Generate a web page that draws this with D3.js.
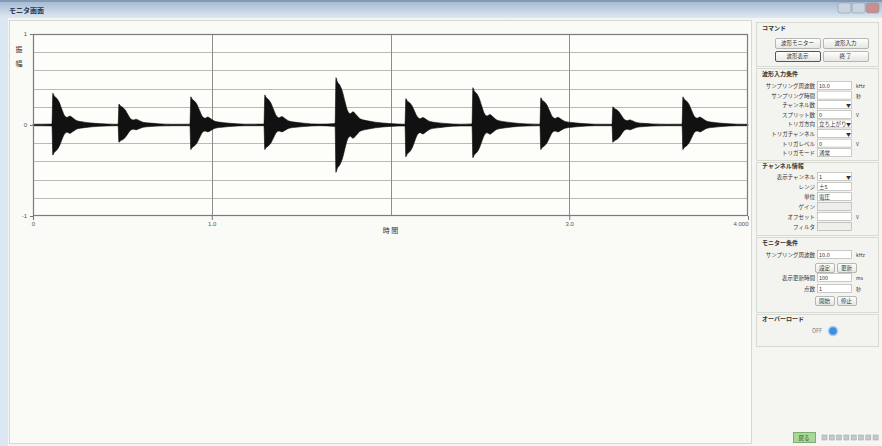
<!DOCTYPE html>
<html><head><meta charset="utf-8">
<script src="https://cdn.jsdelivr.net/npm/d3@7"></script>
<style>
html,body{margin:0;padding:0;background:#f5f6f1;overflow:hidden}
svg{display:block;font-family:"Noto Sans CJK JP","Noto Sans",sans-serif}
</style></head><body>
<svg id="c" width="882" height="446"></svg>
<script>
// ---- waveform data (time in s, amplitude normalised to ±1) ----
const burstStart = [0.106, 0.476, 0.878, 1.292, 1.690, 2.081, 2.456, 2.836, 3.239, 3.631];
const burstPos   = [0.35, 0.23, 0.31, 0.33, 0.52, 0.29, 0.41, 0.30, 0.20, 0.31];
const burstNeg   = [0.33, 0.19, 0.27, 0.27, 0.52, 0.35, 0.36, 0.27, 0.19, 0.27];
// decay envelope of one strike: offset from onset (s) and relative level
const envOffset  = [0, 0.005, 0.012, 0.025, 0.040, 0.055, 0.070, 0.085, 0.100, 0.117, 0.140, 0.180, 0.224, 0.310];
const envLevel   = [0.03, 1.00, 0.92, 0.85, 0.72, 0.50, 0.30, 0.24, 0.28, 0.22, 0.13, 0.09, 0.06, 0.03];
const baseLevel  = 0.008;

// ---- axes ----
const xDomain = [0, 4];
const xTickValues = [0, 1, 3, 4];
const xTickLabels = ["0", "1.0", "3.0", "4.000"];
const xGridValues = [1, 2, 3];
const yDomain = [-1, 1];
const yTickValues = [1, 0, -1];
const yTickLabels = ["1", "0", "-1"];
const yGridValues = [-0.8, -0.6, -0.4, -0.2, 0, 0.2, 0.4, 0.6, 0.8];
const xTitle = "時 間";
const yTitle = ["振", "幅"];

// ---- side panel text ----
const cmdButtons = ["波形モニター", "波形入力", "波形表示", "終 了"];
const inputRows = [
  ["サンプリング周波数", "10.0", "kHz"], ["サンプリング時間", "", "秒"],
  ["チャンネル数", "", "▼"], ["スプリット数", "0", "V"],
  ["トリガ方向", "立ち上がり", "▼"], ["トリガチャンネル", "", "▼"],
  ["トリガレベル", "0", "V"], ["トリガモード", "通常", ""]
];
const chanRows = [
  ["表示チャンネル", "1", "▼"], ["レンジ", "±5", ""], ["単位", "電圧", ""],
  ["ゲイン", null, ""], ["オフセット", "", "V"], ["フィルタ", null, ""]
];
const monRows = [["サンプリング周波数", "10.0", "kHz"], ["表示更新時間", "100", "ms"], ["点数", "1", "秒"]];

const svg = d3.select("#c");
const defs = svg.append("defs");
const tg = defs.append("linearGradient").attr("id", "tb").attr("x1", 0).attr("x2", 0).attr("y1", 0).attr("y2", 1);
tg.append("stop").attr("offset", 0).attr("stop-color", "#9fb6cf");
tg.append("stop").attr("offset", 1).attr("stop-color", "#dfe8f1");
const bg = defs.append("linearGradient").attr("id", "btn").attr("x1", 0).attr("x2", 0).attr("y1", 0).attr("y2", 1);
bg.append("stop").attr("offset", 0).attr("stop-color", "#ffffff");
bg.append("stop").attr("offset", 1).attr("stop-color", "#e4e6e2");

// window frame
svg.append("rect").attr("width", 882).attr("height", 446).attr("fill", "#f5f6f1");
svg.append("rect").attr("width", 882).attr("height", 18).attr("fill", "url(#tb)");
svg.append("rect").attr("width", 882).attr("height", 2).attr("fill", "#8299b3");
svg.append("text").attr("x", 9).attr("y", 13).attr("font-size", 7).attr("font-weight", "bold")
  .attr("fill", "#2a3550").text("モニタ画面");
[[838, "#c9d4e0"], [852, "#c9d4e0"], [866, "#c98f8f"]].forEach(([x, c]) =>
  svg.append("rect").attr("x", x).attr("y", 3).attr("width", 13).attr("height", 10).attr("rx", 2)
    .attr("fill", c).attr("stroke", "#8a9ab0").attr("stroke-width", 0.6));
svg.append("rect").attr("x", 0).attr("y", 18).attr("width", 8).attr("height", 428).attr("fill", "#dbe7f2");
svg.append("rect").attr("x", 9.5).attr("y", 20.5).attr("width", 742).attr("height", 423)
  .attr("fill", "#fafaf6").attr("stroke", "#d6d9d2");

// ---- plot ----
const m = {l: 33, r: 748, t: 34, b: 216};
const x = d3.scaleLinear().domain(xDomain).range([m.l, m.r]);
const y = d3.scaleLinear().domain(yDomain).range([m.b, m.t]);

svg.append("rect").attr("x", m.l).attr("y", m.t).attr("width", m.r - m.l).attr("height", m.b - m.t).attr("fill", "#fdfdfa");
svg.append("g").selectAll("line").data(yGridValues).join("line")
  .attr("x1", m.l).attr("x2", m.r).attr("y1", d => Math.round(y(d)) + 0.5).attr("y2", d => Math.round(y(d)) + 0.5)
  .attr("stroke", "#b9bab6").attr("stroke-width", 1);
svg.append("g").selectAll("line").data(xGridValues).join("line")
  .attr("y1", m.t).attr("y2", m.b).attr("x1", d => Math.round(x(d)) + 0.5).attr("x2", d => Math.round(x(d)) + 0.5)
  .attr("stroke", "#8d8d8a").attr("stroke-width", 1);

// envelope points for the whole record
const pts = [{t: xDomain[0], p: baseLevel, n: baseLevel}];
burstStart.forEach((s, i) => {
  envOffset.forEach((o, k) => {
    pts.push({t: s + o, p: Math.max(baseLevel, envLevel[k] * burstPos[i]), n: Math.max(baseLevel, envLevel[k] * burstNeg[i])});
  });
});
pts.push({t: xDomain[1], p: baseLevel, n: baseLevel});
const area = d3.area().x(d => x(d.t)).y0(d => y(-d.n)).y1(d => y(d.p)).curve(d3.curveMonotoneX);
svg.append("path").datum(pts).attr("d", area).attr("fill", "#111").attr("stroke", "#111").attr("stroke-width", 0.6);

// frame + axes
svg.append("rect").attr("x", m.l + 0.5).attr("y", m.t + 0.5).attr("width", m.r - m.l - 1).attr("height", m.b - m.t - 1)
  .attr("fill", "none").attr("stroke", "#7c7b80").attr("stroke-width", 1.2);
const xAxis = d3.axisBottom(x).tickValues(xTickValues).tickFormat((d, i) => xTickLabels[i]).tickSize(4).tickSizeOuter(0);
const gx = svg.append("g").attr("transform", `translate(0,${m.b})`).call(xAxis);
gx.select(".domain").remove();
gx.selectAll("line").attr("stroke", "#777");
gx.selectAll("text").attr("font-size", 6).attr("fill", "#555").attr("dy", "0.5em")
  .attr("text-anchor", (d, i) => i === xTickValues.length - 1 ? "end" : "middle");
const yAxis = d3.axisLeft(y).tickValues(yTickValues).tickFormat((d, i) => yTickLabels[i]).tickSize(3).tickSizeOuter(0);
const gy = svg.append("g").attr("transform", `translate(${m.l},0)`).call(yAxis);
gy.select(".domain").remove();
gy.selectAll("line").attr("stroke", "#777");
gy.selectAll("text").attr("font-size", 6).attr("fill", "#555");
svg.append("text").attr("x", (m.l + m.r) / 2).attr("y", 233).attr("text-anchor", "middle")
  .attr("font-size", 7).attr("fill", "#333").text(xTitle);
yTitle.forEach((c, i) => svg.append("text").attr("x", 19).attr("y", 52 + i * 14).attr("text-anchor", "middle")
  .attr("font-size", 7).attr("fill", "#333").text(c));

// ---- side panel ----
const P = svg.append("g").attr("font-size", 6).attr("fill", "#333");
const groupBox = (y0, y1) => P.append("rect").attr("x", 756.5).attr("y", y0 + 0.5).attr("width", 122).attr("height", y1 - y0)
  .attr("fill", "#f3f4ef").attr("stroke", "#d8dbd4");
const heading = (txt, yy) => P.append("text").attr("x", 762).attr("y", yy).attr("font-weight", "bold").attr("font-size", 6).text(txt);
const button = (bx, by, w, h, txt, pressed) => {
  P.append("rect").attr("x", bx + 0.5).attr("y", by + 0.5).attr("width", w).attr("height", h).attr("rx", 1.5)
    .attr("fill", "url(#btn)").attr("stroke", pressed ? "#555" : "#9a9c98").attr("stroke-width", pressed ? 1 : 0.7);
  P.append("text").attr("x", bx + w / 2).attr("y", by + h / 2 + 2.2).attr("text-anchor", "middle").attr("font-size", 5.5).text(txt);
};
const field = (ry, val, unit, lab, lx) => {
  P.append("text").attr("x", lx).attr("y", ry + 2).attr("text-anchor", "end").attr("font-size", 5.5).text(lab);
  const dis = val === null;
  P.append("rect").attr("x", 817.5).attr("y", ry - 4.5).attr("width", 34).attr("height", 8)
    .attr("fill", dis ? "#eeefeb" : "#fff").attr("stroke", "#a9aba6").attr("stroke-width", 0.6);
  if (val) P.append("text").attr("x", 819).attr("y", ry + 2).attr("font-size", 5.5).text(val);
  if (unit === "▼") P.append("text").attr("x", 846).attr("y", ry + 2).attr("font-size", 5).text("▼");
  else if (unit) P.append("text").attr("x", 856).attr("y", ry + 2).attr("font-size", 5).text(unit);
};

groupBox(22, 66); groupBox(68, 160); groupBox(162, 235); groupBox(237, 312); groupBox(314, 346);
heading("コマンド", 30);
button(775, 38, 45, 10, cmdButtons[0], false);
button(823, 38, 45, 10, cmdButtons[1], false);
button(775, 51, 45, 10, cmdButtons[2], true);
button(823, 51, 45, 10, cmdButtons[3], false);

heading("波形入力条件", 76);
inputRows.forEach((r, i) => field(86 + i * 9.6, r[1], r[2], r[0], 815));
heading("チャンネル情報", 168);
chanRows.forEach((r, i) => field(177 + i * 10, r[1], r[2], r[0], 815));
heading("モニター条件", 245);
field(255, monRows[0][1], monRows[0][2], monRows[0][0], 815);
button(815, 263, 19, 9, "設定", false);
button(837, 263, 19, 9, "更新", false);
field(278, monRows[1][1], monRows[1][2], monRows[1][0], 815);
field(289, monRows[2][1], monRows[2][2], monRows[2][0], 815);
button(815, 296, 19, 9, "開始", false);
button(837, 296, 19, 9, "停止", false);
heading("オーバーロード", 321);
P.append("text").attr("x", 812).attr("y", 333).attr("font-size", 5.5).attr("fill", "#777").text("OFF");
P.append("circle").attr("cx", 833).attr("cy", 331).attr("r", 4.5).attr("fill", "#3f8ee0").attr("stroke", "#a9cdf2").attr("stroke-width", 1.5);

// status strip
svg.append("rect").attr("x", 793.5).attr("y", 432.5).attr("width", 22).attr("height", 10).attr("fill", "#a9d79a").attr("stroke", "#7fae72");
svg.append("text").attr("x", 804).attr("y", 440).attr("text-anchor", "middle").attr("font-size", 5.5).attr("fill", "#2c4a25").text("戻る");
d3.range(8).forEach(i => svg.append("rect").attr("x", 822 + i * 7.3).attr("y", 435).attr("width", 5).attr("height", 5)
  .attr("fill", "#c4c9cf").attr("stroke", "#9aa1a9").attr("stroke-width", 0.5));
</script>
</body></html>
